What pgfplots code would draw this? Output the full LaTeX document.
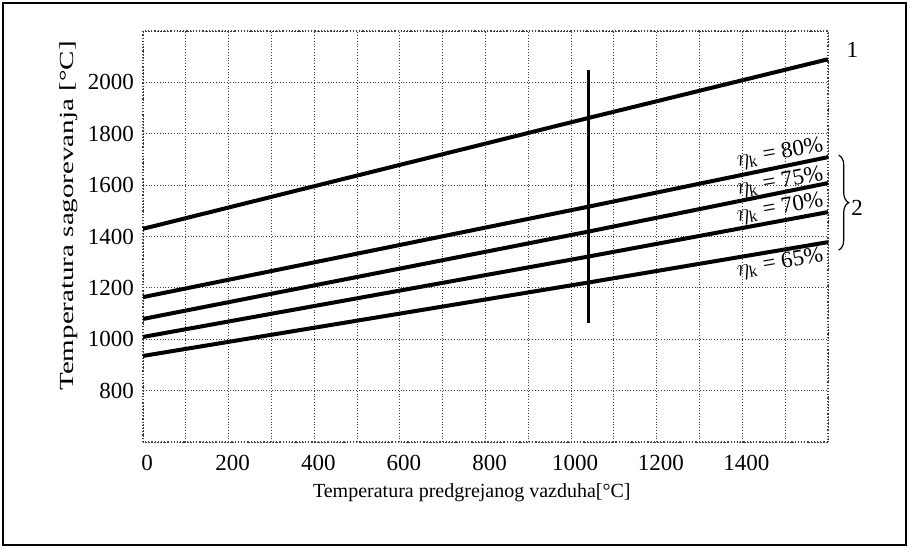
\documentclass[border=0pt]{standalone}
\usepackage{pgfplots}
\pgfplotsset{compat=1.18}
\usepackage{fontspec}
\setmainfont{Liberation Serif}
\usetikzlibrary{decorations.pathreplacing}
\begin{document}
\begin{tikzpicture}
\useasboundingbox (0pt,0pt) rectangle (454.5pt,274pt);
\draw[line width=1pt] (1.5pt,1.5pt) rectangle (453pt,272.5pt);
\begin{axis}[
  at={(71.5pt,53pt)}, anchor=south west,
  scale only axis, width=342.5pt, height=205.5pt,
  xmin=0, xmax=1600, ymin=600, ymax=2200,
  xtick={0,100,...,1600},
  xticklabels={0,{},200,{},400,{},600,{},800,{},1000,{},1200,{},1400,{},{}},
  ytick={600,800,...,2200},
  yticklabels={{},800,1000,1200,1400,1600,1800,2000,{}},
  major tick length=0pt,
  grid=major,
  grid style={densely dotted, black!75, line width=0.5pt},
  axis line style={densely dotted, black!75, line width=0.6pt},
  tick label style={font=\fontsize{11.5}{13}\selectfont},
  xticklabel style={yshift=-3pt, xshift=2pt},
  yticklabel style={xshift=-1pt},
  xlabel={Temperatura predgrejanog vazduha[°C]},
  ylabel={\scalebox{1.45}[1]{Temperatura sagorevanja [°C]}},
  xlabel style={font=\fontsize{11}{13}\selectfont},
  ylabel style={font=\fontsize{13}{15}\selectfont},
  every axis x label/.style={at={(axis description cs:0.48,-0.124)}, anchor=center},
  every axis y label/.style={at={(axis description cs:-0.108,0.55)}, rotate=90, anchor=center},
  clip=false,
]
\addplot[black, line width=2pt] coordinates {(0,1430) (1037,1860) (1600,2090)};
\addplot[black, line width=2pt] coordinates {(0,1164) (1037,1515) (1600,1709)};
\addplot[black, line width=2pt] coordinates {(0,1079) (1037,1418) (1600,1608)};
\addplot[black, line width=2pt] coordinates {(0,1009) (1037,1321) (1600,1495)};
\addplot[black, line width=2pt] coordinates {(0,935) (1037,1220) (1600,1378)};
\addplot[black, line width=1.5pt] coordinates {(1040,1065) (1040,2050)};
\node[font=\fontsize{11.5}{13}\selectfont] at (axis cs:1657,2125) {1};
\node[font=\fontsize{11.5}{13}\selectfont] at (axis cs:1668,1510) {2};
\draw[decorate, decoration={brace, amplitude=5pt}, line width=0.6pt] (axis cs:1625,1717) -- (axis cs:1625,1347);
\node[rotate=10, font=\fontsize{11.5}{13}\selectfont] at (axis cs:1488,1724) {$\eta_{\mathrm{k}}$ = 80\%};
\node[rotate=10, font=\fontsize{11.5}{13}\selectfont] at (axis cs:1488,1612) {$\eta_{\mathrm{k}}$ = 75\%};
\node[rotate=10, font=\fontsize{11.5}{13}\selectfont] at (axis cs:1488,1510) {$\eta_{\mathrm{k}}$ = 70\%};
\node[rotate=10, font=\fontsize{11.5}{13}\selectfont] at (axis cs:1488,1296) {$\eta_{\mathrm{k}}$ = 65\%};
\end{axis}
\end{tikzpicture}
\end{document}
